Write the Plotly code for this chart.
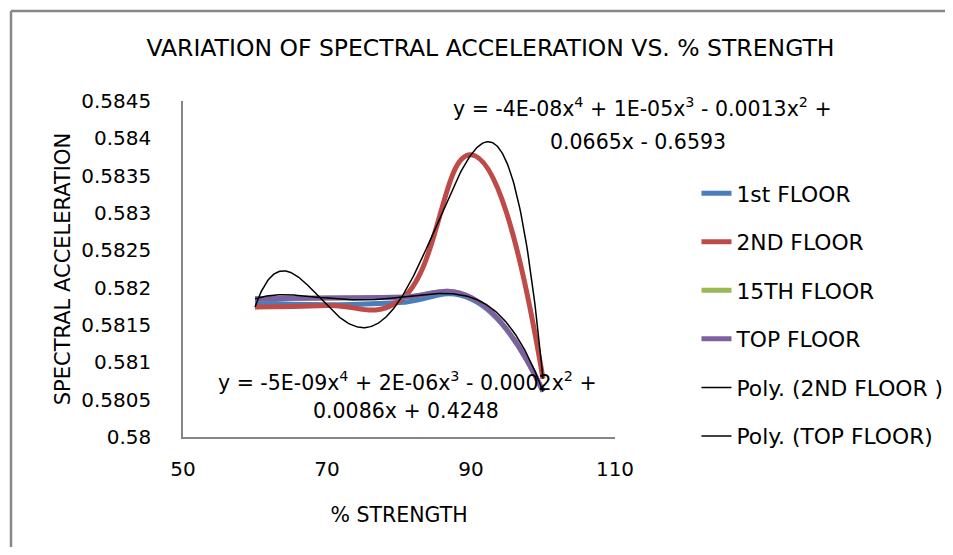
import numpy as np
import plotly.graph_objects as go

# ---- data ----
strength = [60, 70, 80, 90, 100]
floor_1st = [0.58180, 0.58177, 0.58180, 0.58185, 0.58062]
floor_2nd = [0.58174, 0.58176, 0.58182, 0.58378, 0.58078]
floor_15th = [0.58185, 0.58186, 0.58187, 0.58187, 0.58061]
floor_top = [0.58185, 0.58186, 0.58187, 0.58187, 0.58061]

y_tick_vals = [0.58, 0.5805, 0.581, 0.5815, 0.582, 0.5825, 0.583, 0.5835, 0.584, 0.5845]
y_tick_text = ["0.58", "0.5805", "0.581", "0.5815", "0.582", "0.5825", "0.583", "0.5835", "0.584", "0.5845"]
x_tick_vals = [50, 70, 90, 110]

eq_2nd_lines = ["y = -4E-08x<sup>4</sup> + 1E-05x<sup>3</sup> - 0.0013x<sup>2</sup> +", "0.0665x - 0.6593"]
eq_top_lines = ["y = -5E-09x<sup>4</sup> + 2E-06x<sup>3</sup> - 0.0002x<sup>2</sup> +", "0.0086x + 0.4248"]

FONT = "DejaVu Sans"
FS = 20
fig = go.Figure()

series = [
    ("1st FLOOR", floor_1st, "#4A7EBB"),
    ("2ND FLOOR", floor_2nd, "#BE4B48"),
    ("15TH FLOOR", floor_15th, "#98B954"),
    ("TOP FLOOR", floor_top, "#7D60A0"),
]
for i, (name, vals, col) in enumerate(series):
    fig.add_trace(go.Scatter(x=strength, y=vals, name=name, mode="lines",
                             line=dict(color=col, width=5, shape="spline", smoothing=1.3),
                             legendgroup=f"g{i}"))

xs = np.linspace(min(strength), max(strength), 300)
for j, (name, vals) in enumerate([("Poly. (2ND FLOOR )", floor_2nd), ("Poly. (TOP FLOOR)", floor_top)]):
    coef = np.polyfit(np.array(strength, float), np.array(vals), 4)
    fig.add_trace(go.Scatter(x=xs, y=np.polyval(coef, xs), name=name, mode="lines",
                             line=dict(color="black", width=1.5), legendgroup=f"p{j}"))

# page body has an 8px margin: figure placed at (8,8), sized so the page does not scroll
# plot area in screen pixels: x 183..615, y 101..437
def px_x(p):
    return (p - 183) / 432

def px_y(p):
    return (437 - p) / 336

FIG_W, FIG_H = 945, 539
border = dict(color="#888888", width=2.5)
fig.update_layout(
    width=FIG_W, height=FIG_H,
    margin=dict(l=175, r=FIG_W - 175 - 432, t=93, b=FIG_H - 93 - 336, autoexpand=False),
    paper_bgcolor="white", plot_bgcolor="white",
    font=dict(family=FONT, size=FS, color="black"),
    title=dict(text="VARIATION OF SPECTRAL ACCELERATION VS. % STRENGTH", x=(490.5 - 8) / FIG_W,
               xanchor="center", y=1 - 40 / FIG_H, yanchor="middle",
               font=dict(family=FONT, size=23.5, color="black")),
    showlegend=True,
    legend=dict(x=1.1886, xanchor="left", y=0.787, yanchor="top", tracegroupgap=17.2,
                font=dict(family=FONT, size=21.8, color="black"), bgcolor="rgba(0,0,0,0)"),
    xaxis=dict(range=[50, 110], tickvals=x_tick_vals, showgrid=False, zeroline=False,
               showline=True, linecolor="#868686", linewidth=1.5, ticks="",
               ticklabelstandoff=13,
               title=dict(text="% STRENGTH", standoff=28, font=dict(family=FONT, size=20.5))),
    yaxis=dict(range=[0.58, 0.5845], tickvals=y_tick_vals, ticktext=y_tick_text, showgrid=False,
               zeroline=False, showline=True, linecolor="#868686", linewidth=1.5, ticks="",
               ticklabelstandoff=26,
               title=dict(text="SPECTRAL ACCELERATION", standoff=5, font=dict(family=FONT, size=21))),
    shapes=[
        dict(type="line", xref="paper", yref="paper", x0=px_x(11), x1=px_x(1000),
             y0=px_y(11), y1=px_y(11), line=border, layer="below"),
        dict(type="line", xref="paper", yref="paper", x0=px_x(11), x1=px_x(11),
             y0=px_y(11), y1=px_y(600), line=border, layer="below"),
    ],
)

eq_pos = [(eq_2nd_lines, [(642, 107), (638, 142)]), (eq_top_lines, [(407, 381), (406, 411)])]
for lines, pos in eq_pos:
    for txt, (px, py) in zip(lines, pos):
        fig.add_annotation(x=px_x(px), y=px_y(py), xref="paper", yref="paper",
                           text=txt, showarrow=False, xanchor="center", yanchor="middle",
                           font=dict(family=FONT, size=20.5, color="black"))

fig.write_html("out.html")
